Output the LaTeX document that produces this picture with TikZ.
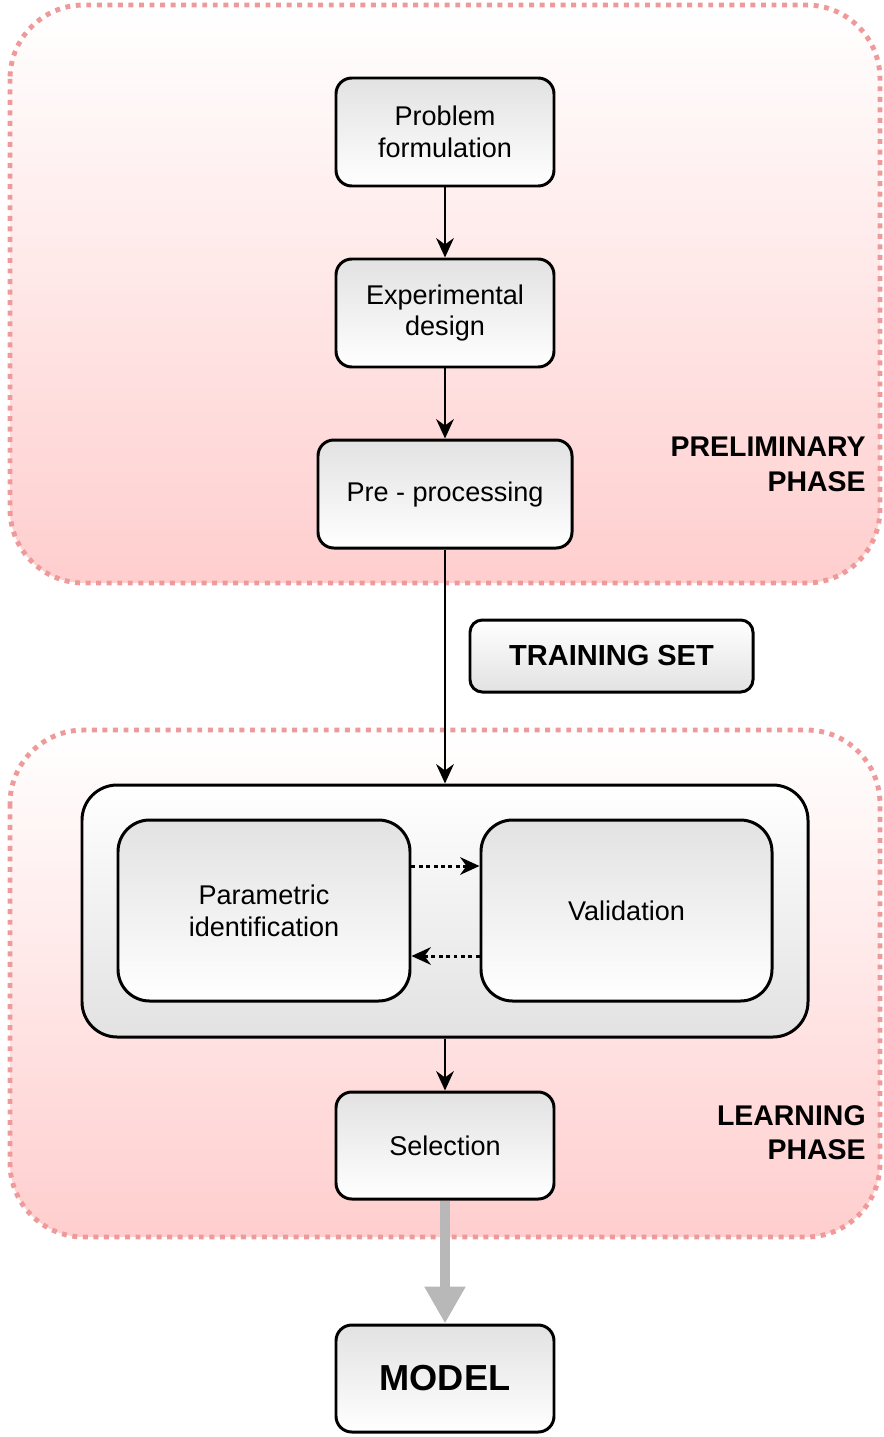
\documentclass[tikz,border=0pt]{standalone}
\usepackage{fontspec}
\setmainfont{Liberation Sans}
\usetikzlibrary{arrows.meta}
\definecolor{dotpink}{HTML}{EF9A9A}
\definecolor{phasepink}{HTML}{FFCECE}
\definecolor{boxgray}{HTML}{E2E2E2}
\definecolor{arrgray}{HTML}{B8B8B8}
\tikzset{
  phase/.style={draw=dotpink, line width=2.8pt, dash pattern=on 2.8pt off 3.2pt, rounded corners=42pt, top color=white, bottom color=phasepink},
  stepbox/.style={draw=black, line width=1.7pt, rounded corners=9pt, top color=boxgray, bottom color=white, align=center, font=\fontsize{15.4}{18.2}\selectfont, inner sep=0pt},
  flow/.style={-{Stealth[length=11pt,width=10pt]}, line width=1.7pt},
  dotflow/.style={-{Stealth[length=11pt,width=10pt]}, line width=1.7pt, dash pattern=on 2.2pt off 2pt},
  phaselabel/.style={align=right, anchor=north east, font=\fontsize{16.2}{19.5}\selectfont\bfseries, inner sep=0pt},
}
\begin{document}
\begin{tikzpicture}[x=0.02cm, y=-0.02cm]
\useasboundingbox (0,0) rectangle (883,1437);
% phase regions
\draw[phase] (10,5) rectangle (880,583);
\draw[phase] (10,730) rectangle (880,1237);
% nodes
\node[stepbox, minimum width=218*0.02cm, minimum height=108*0.02cm] (pf) at (445,132) {Problem\\formulation};
\node[stepbox, minimum width=218*0.02cm, minimum height=108*0.02cm] (ed) at (445,313) {Experimental\\design};
\node[stepbox, minimum width=254*0.02cm, minimum height=108*0.02cm] (pp) at (445,494) {Pre - processing};
\node[stepbox, top color=white, bottom color=boxgray, minimum width=283*0.02cm, minimum height=72*0.02cm, font=\fontsize{16.5}{18}\selectfont\bfseries, rounded corners=7pt] (ts) at (611.5,656) {TRAINING SET};
\node[stepbox, top color=white, bottom color=boxgray, minimum width=726*0.02cm, minimum height=252*0.02cm, rounded corners=20pt] (outer) at (445,911) {};
\node[stepbox, minimum width=292*0.02cm, minimum height=181*0.02cm, rounded corners=18pt] (pi) at (264,910.5) {Parametric\\identification};
\node[stepbox, minimum width=291*0.02cm, minimum height=181*0.02cm, rounded corners=18pt] (va) at (626.5,910.5) {Validation};
\node[stepbox, minimum width=218*0.02cm, minimum height=107*0.02cm] (se) at (445,1145.5) {Selection};
\node[stepbox, minimum width=218*0.02cm, minimum height=107*0.02cm, font=\fontsize{20.6}{24}\selectfont\bfseries] (mo) at (445,1378.5) {MODEL};
% labels
\node[phaselabel] (lp1) at (866,437) {PRELIMINARY\\PHASE};
\node[phaselabel] (lp2) at (866,1105) {LEARNING\\PHASE};
% connectors
\draw[flow] (pf) -- (ed);
\draw[flow] (ed) -- (pp);
\draw[flow] (pp) -- (outer);
\draw[flow] (outer) -- (se);
\draw[dotflow] (pi.east |- 0,866) -- (va.west |- 0,866);
\draw[dotflow] (va.west |- 0,956) -- (pi.east |- 0,956);
\draw[arrgray, line width=5.6pt, -{Triangle[length=21pt,width=22pt]}] (se) -- (mo);
\end{tikzpicture}
\end{document}
